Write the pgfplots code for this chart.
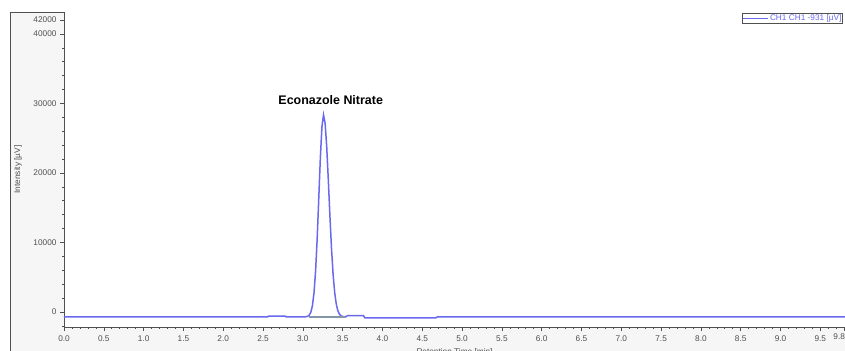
\documentclass[border=0pt]{standalone}
\usepackage{pgfplots}
\pgfplotsset{compat=1.18}
\usepackage{fontspec}
\setmainfont{Liberation Sans}
\definecolor{trace}{RGB}{105,105,240}
\definecolor{panel}{RGB}{246,246,246}
\definecolor{axgray}{RGB}{80,80,80}
\definecolor{basegray}{RGB}{130,150,165}
\begin{document}
\begin{tikzpicture}
\useasboundingbox (0bp,0bp) rectangle (845bp,351bp);
\fill[panel] (10.5bp,0bp) rectangle (845bp,339bp);
\draw[axgray, line width=0.8bp] (10.5bp,0bp) -- (10.5bp,339bp) -- (845bp,339bp);
\begin{axis}[
  at={(64bp,24bp)}, anchor=south west,
  scale only axis, width=781bp, height=315bp,
  xmin=0, xmax=9.81, ymin=-2160, ymax=43150,
  axis x line*=bottom, axis y line*=left,
  axis line style={axgray, line width=0.8bp, -},
  tick align=outside, major tick length=4bp, minor tick length=2bp,
  tick style={axgray, line width=0.6bp},
  xtick={0,0.5,1,1.5,2,2.5,3,3.5,4,4.5,5,5.5,6,6.5,7,7.5,8,8.5,9,9.5},
  minor xtick={0.1,0.2,0.3,0.4,0.6,0.7,0.8,0.9,1.1,1.2,1.3,1.4,1.6,1.7,1.8,1.9,2.1,2.2,2.3,2.4,2.6,2.7,2.8,2.9,3.1,3.2,3.3,3.4,3.6,3.7,3.8,3.9,4.1,4.2,4.3,4.4,4.6,4.7,4.8,4.9,5.1,5.2,5.3,5.4,5.6,5.7,5.8,5.9,6.1,6.2,6.3,6.4,6.6,6.7,6.8,6.9,7.1,7.2,7.3,7.4,7.6,7.7,7.8,7.9,8.1,8.2,8.3,8.4,8.6,8.7,8.8,8.9,9.1,9.2,9.3,9.4,9.6,9.7},
  extra x ticks={9.8},
  extra x tick style={tick label style={xshift=-5bp, yshift=2bp}},
  ytick={0,10000,20000,30000,40000,42000},
  minor ytick={-2000,2000,4000,6000,8000,12000,14000,16000,18000,22000,24000,26000,28000,32000,34000,36000,38000},
  scaled y ticks=false,
  yticklabel style={/pgf/number format/fixed, /pgf/number format/1000 sep={}},
  xticklabel style={/pgf/number format/fixed, /pgf/number format/fixed zerofill, /pgf/number format/precision=1, yshift=-1bp},
  /pgf/number format/assume math mode=true,
  ticklabel style={font=\fontsize{8.3}{10}\selectfont, text=axgray},
  axis background/.style={fill=white},
  xlabel={Retention Time [min]},
  xlabel style={at={(rel axis cs:0.5,0)}, anchor=north, yshift=-18bp, font=\fontsize{8.3}{10}\selectfont, text=axgray},
  ylabel={Intensity [µV]},
  ylabel style={at={(rel axis cs:0,0.5)}, anchor=center, yshift=46bp, font=\fontsize{8.3}{10}\selectfont, text=axgray},
  legend style={at={(rel axis cs:1,1)}, anchor=north east, xshift=-2bp, yshift=-1bp,
    draw=axgray, line width=0.6bp, inner sep=0.5bp, fill=white,
    font=\fontsize{8.3}{9}\selectfont, text=trace, nodes={inner sep=0.8bp}},
  legend image code/.code={\draw[#1] (0bp,0bp) -- (25bp,0bp);},
]
\addplot[trace, line width=1.5bp] coordinates {
(0,-700) (2.56,-700) (2.57,-600) (2.78,-600) (2.79,-700) (3.02,-700)
(3.04,-680) (3.06,-624) (3.08,-465) (3.10,-53) (3.12,880) (3.14,2720)
(3.16,5870) (3.18,10520) (3.20,16320) (3.22,22190) (3.24,26670) (3.26,28350)
(3.28,27130) (3.30,23730) (3.32,18990) (3.34,13840) (3.36,9150) (3.38,5420)
(3.40,2790) (3.42,1125) (3.44,175) (3.46,-315) (3.48,-545) (3.50,-643)
(3.52,-680) (3.54,-695) (3.56,-520) (3.76,-520) (3.78,-850) (4.67,-850)
(4.69,-700) (9.81,-700)
};
\addlegendentry{CH1 CH1 -931 [µV]}
\addplot[basegray, line width=1.5bp, forget plot] coordinates {(3.08,-700) (3.53,-700)};
\node[font=\bfseries\fontsize{12.5}{14}\selectfont] at (axis cs:3.35,30430) {Econazole Nitrate};
\end{axis}
\end{tikzpicture}
\end{document}
